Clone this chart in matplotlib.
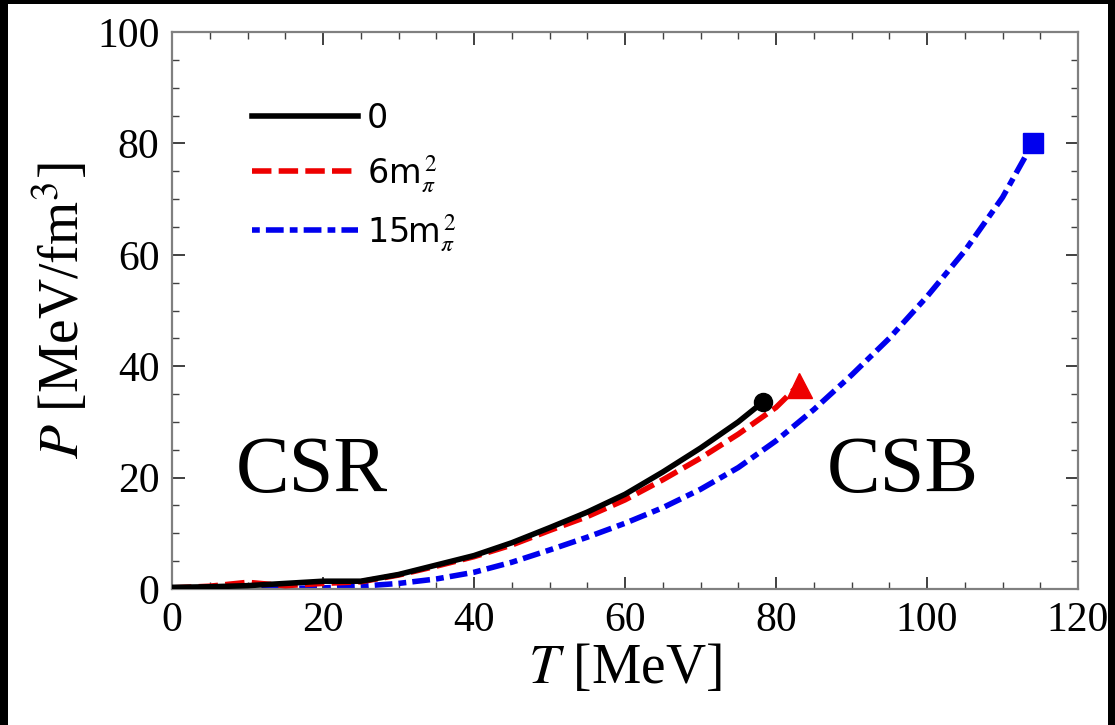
import numpy as np
import matplotlib
matplotlib.use("Agg")
import matplotlib.pyplot as plt
from matplotlib.patches import Rectangle
from matplotlib.ticker import MultipleLocator

plt.rcParams["mathtext.fontset"] = "stix"

# curves
T_0 = [0, 5, 10, 15, 20, 25, 30, 35, 40, 45, 50, 55, 60, 65, 70, 75, 78.3]
P_0 = [0.3, 0.4, 0.6, 1.0, 1.4, 1.4, 2.6, 4.3, 6.0, 8.3, 11.0, 13.8, 17.0, 21.0, 25.3, 30.0, 33.6]

T_6 = [0, 5, 10, 15, 20, 25, 30, 35, 40, 45, 50, 55, 60, 65, 70, 75, 80, 83]
P_6 = [0.2, 0.5, 1.2, 0.6, 1.0, 1.3, 2.5, 4.1, 5.8, 7.9, 10.5, 13.0, 16.0, 19.6, 23.5, 27.8, 32.6, 36.6]

T_15 = [0, 10, 20, 25, 30, 35, 40, 45, 50, 55, 60, 65, 70, 75, 80, 85, 90, 95, 100, 105, 110, 114]
P_15 = [0, 0, 0.2, 0.5, 1.0, 1.8, 3.0, 4.8, 7.0, 9.3, 11.8, 14.6, 17.9, 21.8, 26.6, 32.2, 38.4, 45.0, 52.5, 60.7, 70.3, 80.0]

labels = ["0", r"6m$_{\pi}^{\,2}$", r"15m$_{\pi}^{\,2}$"]

fig = plt.figure(figsize=(11.15, 7.25), dpi=100)
fig.patch.set_facecolor("black")
fig.add_artist(Rectangle((8 / 1115, 0), 1100 / 1115, 721 / 725, transform=fig.transFigure,
                         facecolor="white", edgecolor="none", zorder=-1))

ax = fig.add_axes([172 / 1115, 136 / 725, 906 / 1115, 557 / 725])
ax.set_facecolor("white")

lw = 4
ax.plot(T_15, P_15, color="#0000ee", lw=lw, dashes=[1.4, 1.1, 3.2, 1.1], label=labels[2], zorder=2)
ax.plot(T_6, P_6, color="#ee0000", lw=lw, dashes=[3.5, 1.3], label=labels[1], zorder=3)
ax.plot(T_0, P_0, color="black", lw=lw, label=labels[0], zorder=4)
ax.plot(T_0[-1], P_0[-1], "o", color="black", ms=13, zorder=5)
ax.plot(T_6[-1], P_6[-1], "^", color="#ee0000", ms=18, zorder=5)
ax.plot(T_15[-1], P_15[-1], "s", color="#0000ee", ms=15, zorder=5)

ax.set_xlim(0, 120)
ax.set_ylim(0, 100)
ax.xaxis.set_major_locator(MultipleLocator(20))
ax.xaxis.set_minor_locator(MultipleLocator(5))
ax.yaxis.set_major_locator(MultipleLocator(20))
ax.yaxis.set_minor_locator(MultipleLocator(5))
for s in ax.spines.values():
    s.set_color("#808080")
    s.set_linewidth(1.6)
ax.tick_params(which="both", direction="in", top=True, right=True, color="#404040")
ax.tick_params(which="major", length=9, width=1.4, pad=9, labelsize=30)
ax.tick_params(which="minor", length=5, width=1.0)
for lab in ax.get_xticklabels() + ax.get_yticklabels():
    lab.set_family("Liberation Serif")

ax.set_xlabel(r"$T$ [MeV]", fontsize=40, family="Liberation Serif", labelpad=2)
ax.set_ylabel(r"$P$ [MeV/fm$^3$]", fontsize=40, family="Liberation Serif", labelpad=4)

ax.text(18.5, 21, "CSR", fontsize=58, family="Liberation Serif", ha="center", va="center")
ax.text(96.8, 21, "CSB", fontsize=58, family="Liberation Serif", ha="center", va="center")

h, l = ax.get_legend_handles_labels()
leg = ax.legend(h[::-1], l[::-1], loc="upper left", bbox_to_anchor=(0.088, 0.875), frameon=False,
                fontsize=24, handlelength=3.2, handletextpad=0.25, labelspacing=0.55,
                borderaxespad=0, borderpad=0)

fig.savefig("out.png", dpi=100, facecolor="black")
